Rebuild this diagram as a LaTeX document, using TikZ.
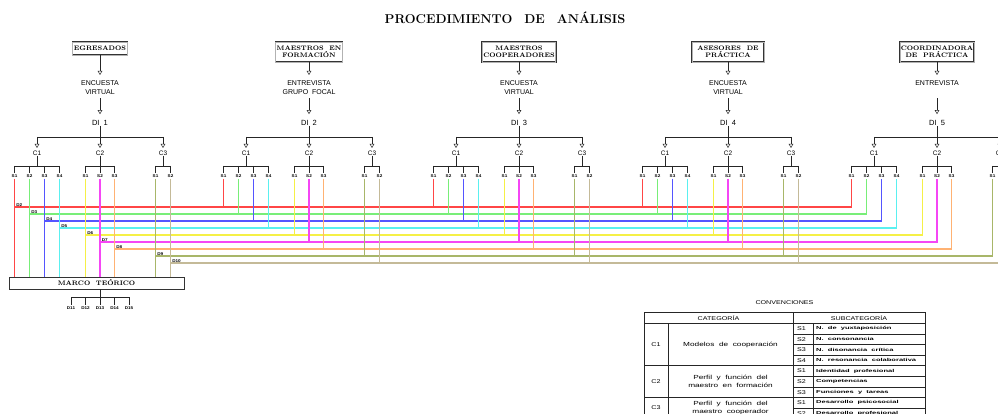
\documentclass[tikz,border=0pt]{standalone}
\usepackage{fontspec}
\setsansfont{Liberation Sans}
\newfontfamily\slabfam[FakeStretch=1.15]{Liberation Sans}
\newfontfamily\tsansfam[FakeStretch=1.3]{Liberation Sans}
\newfontfamily\tcatfam[FakeStretch=1.4]{Liberation Sans}
\newfontfamily\tsubfam[FakeStretch=1.75]{Liberation Sans}
\usetikzlibrary{arrows.meta,calc}
\definecolor{dc2}{RGB}{255,70,70}
\definecolor{dc3}{RGB}{120,238,120}
\definecolor{dc4}{RGB}{85,85,255}
\definecolor{dc5}{RGB}{90,240,240}
\definecolor{dc6}{RGB}{245,240,70}
\definecolor{dc7}{RGB}{245,70,245}
\definecolor{dc8}{RGB}{255,178,115}
\definecolor{dc9}{RGB}{168,182,105}
\definecolor{dc10}{RGB}{196,186,152}
\tikzset{
  blk/.style={line width=0.6pt, draw=black!85},
  arr/.style={blk, -{Triangle[open,length=4pt,width=4.5pt,line width=0.5pt]}},
  hdrbox/.style={draw=black!80, double=black!30, double distance=0.5pt, line width=0.6pt, align=center,
    font=\bfseries\fontsize{6.5}{7.5}\selectfont, inner sep=1pt},
  methtxt/.style={font=\sffamily\fontsize{7}{9}\selectfont, align=center, inner sep=0pt, anchor=north},
  ditxt/.style={font=\sffamily\fontsize{7.5}{9}\selectfont, inner sep=0pt},
  ctxt/.style={font=\sffamily\fontsize{6.5}{8}\selectfont, inner sep=0pt},
  stxt/.style={font=\slabfam\bfseries\fontsize{4}{5}\selectfont, inner sep=1pt},
  dline/.style={line width=1.2pt},
  dlab/.style={font=\slabfam\bfseries\fontsize{4}{5}\selectfont, inner sep=0.6pt, anchor=south west},
  marcobox/.style={draw=black!80, line width=0.6pt, minimum width=175pt, minimum height=12pt,
    inner sep=0pt, font=\bfseries\fontsize{6.5}{8}\selectfont},
  titletxt/.style={font=\bfseries\fontsize{12.8}{14}\selectfont, inner sep=0pt},
  ttext/.style={font=\tsansfam\fontsize{5.5}{7}\selectfont, inner sep=0pt},
  tcat/.style={font=\tcatfam\fontsize{5.9}{7.6}\selectfont, inner sep=0pt, align=center},
  tsub/.style={font=\tsubfam\bfseries\fontsize{4.3}{5}\selectfont, inner sep=0pt, anchor=west},
  tgrid/.style={line width=0.6pt, draw=black!85},
}
\begin{document}
\begin{tikzpicture}[x=1pt,y=-1pt]
\useasboundingbox (0,0) rectangle (998,414);
\fill[white] (0,0) rectangle (998,414);

\node[titletxt] (title) at (505,18) {PROCEDIMIENTO\hspace{12pt}DE\hspace{12pt}ANÁLISIS};

% ---------- columns ----------
\foreach \k/\X/\btxt/\bw/\bh/\by/\mtxt/\mg in {
  1/100/{EGRESADOS}/55/13/48.5/{ENCUESTA\\VIRTUAL}/3.5,
  2/309/{MAESTROS~~EN\\FORMACIÓN}/65/20/52/{ENTREVISTA\\GRUPO~~FOCAL}/3.5,
  3/519/{MAESTROS\\COOPERADORES}/71/20/52/{ENCUESTA\\VIRTUAL}/3.5,
  4/728/{ASESORES~~DE\\PRÁCTICA}/72/20/52/{ENCUESTA\\VIRTUAL}/3.5,
  5/937/{COORDINADORA\\DE~~PRÁCTICA}/72/20/52/{ENTREVISTA}/12.5}
{
  \node[hdrbox, minimum width=\bw pt, minimum height=\bh pt] (box\k) at (\X,\by) {\btxt};
  \node[methtxt] (meth\k) at (\X,80.5) {\mtxt};
  \node[ditxt] (di\k) at (\X,123) {DI~~\k};
  \draw[arr] (box\k.south) -- ([yshift=5.5pt]meth\k.north);
  \draw[arr] ([yshift=-\mg pt]meth\k.south) -- ([yshift=6pt]di\k.north);
  \coordinate (bar\k) at (\X,137);
  \foreach \j in {1,2,3} {
    \node[ctxt] (c\k\j) at ({\X+(\j-2)*63},153) {C\j};
  }
  \draw[blk] (di\k.south) -- (bar\k);
  \draw[blk] (c\k1 |- bar\k) -- (c\k3 |- bar\k);
  \foreach \j in {1,2,3} {
    \draw[arr] (c\k\j |- bar\k) -- ([yshift=2.5pt]c\k\j.north);
  }
  \foreach \j/\n/\dd in {1/4/15, 2/3/14.5, 3/2/15} {
    \foreach \i in {1,...,\n} {
      \node[stxt] (s\k\j\i) at ({\X+(\j-2)*63+(\i-(\n+1)/2)*\dd},176) {S\i};
      \draw[blk] (s\k\j\i.north |- 0,166) -- (s\k\j\i.north);
    }
    \draw[blk] (c\k\j.south) -- (c\k\j |- 0,166);
    \draw[blk] (s\k\j1.north |- 0,166) -- (s\k\j\n.north |- 0,166);
  }
}

% ---------- marco teorico ----------
\node[marcobox] (marco) at (96.5,283) {MARCO~~TEÓRICO};
\coordinate (mb) at (100,297);
\foreach \i in {1,...,5} {
  \pgfmathtruncatemacro\dnum{10+\i}
  \node[stxt] (dd\i) at ({71+14.5*(\i-1)},308) {D\dnum};
  \draw[blk] (dd\i.north |- mb) -- (dd\i.north);
}
\draw[blk] (mb |- marco.south) -- (mb);
\draw[blk] (dd1.north |- mb) -- (dd5.north |- mb);

% ---------- coloured links ----------
\foreach \j/\n/\base in {1/4/1, 2/3/5, 3/2/8} {
  \foreach \i in {1,...,\n} {
    \pgfmathtruncatemacro\dn{\base+\i}
    \pgfmathsetmacro\yd{207+7*(\dn-2)}
    \draw[dline, draw=dc\dn] (s1\j\i.south) -- (s1\j\i.south |- marco.north);
    \foreach \k in {2,3,4} {
      \draw[dline, draw=dc\dn] (s\k\j\i.south) -- (s\k\j\i.south |- 0,\yd);
    }
    \draw[dline, draw=dc\dn] (s1\j\i.south |- 0,\yd) -- (s5\j\i.south |- 0,\yd) -- (s5\j\i.south);
    \node[dlab] (dl\dn) at ([xshift=1pt]s1\j\i.south |- 0,\yd) {D\dn};
  }
}

% ---------- legend ----------
\node[ttext] (conv) at (784.5,303) {CONVENCIONES};
\draw[tgrid] (644,312) rectangle (925,418.7);
\draw[tgrid] (644,323.3) -- (925,323.3);
\draw[tgrid] (793,312) -- (793,418.7);
\draw[tgrid] (668,323.3) -- (668,418.7);
\draw[tgrid] (813,323.3) -- (813,418.7);
\foreach \yy in {333.9,344.5,355.1,376.3,386.9,408.1} {
  \draw[tgrid] (793,\yy) -- (925,\yy);
}
\foreach \yy in {365.7,397.5} {
  \draw[tgrid] (644,\yy) -- (925,\yy);
}
\node[ttext] (hcat) at (718.5,317.8) {CATEGORÍA};
\node[ttext] (hsub) at (859,317.8) {SUBCATEGORÍA};
\node[ttext] (lc1) at (656,344.5) {C1};
\node[ttext] (lc2) at (656,381.6) {C2};
\node[ttext] (lc3) at (656,408.1) {C3};
\node[tcat] (lm1) at (730.5,344.5) {Modelos~~de~~cooperación};
\node[tcat] (lm2) at (730.5,381.6) {Perfil~~y~~función~~del\\maestro~~en~~formación};
\node[tcat] (lm3) at (730.5,408.1) {Perfil~~y~~función~~del\\maestro~~cooperador};
\foreach \r/\yy/\code/\txt in {
  1/328.6/S1/{N.~~de~~yuxtaposición},
  2/339.2/S2/{N.~~consonancia},
  3/349.8/S3/{N.~~disonancia~~crítica},
  4/360.4/S4/{N.~~resonancia~~colaborativa},
  5/371.0/S1/{Identidad~~profesional},
  6/381.6/S2/{Competencias},
  7/392.2/S3/{Funciones~~y~~tareas},
  8/402.8/S1/{Desarrollo~~psicosocial},
  9/413.4/S2/{Desarrollo~~profesional}} {
  \node[ttext] (sc\r) at (801.5,\yy) {\code};
  \node[tsub] (sn\r) at (816,\yy) {\txt};
}
\end{tikzpicture}
\end{document}
